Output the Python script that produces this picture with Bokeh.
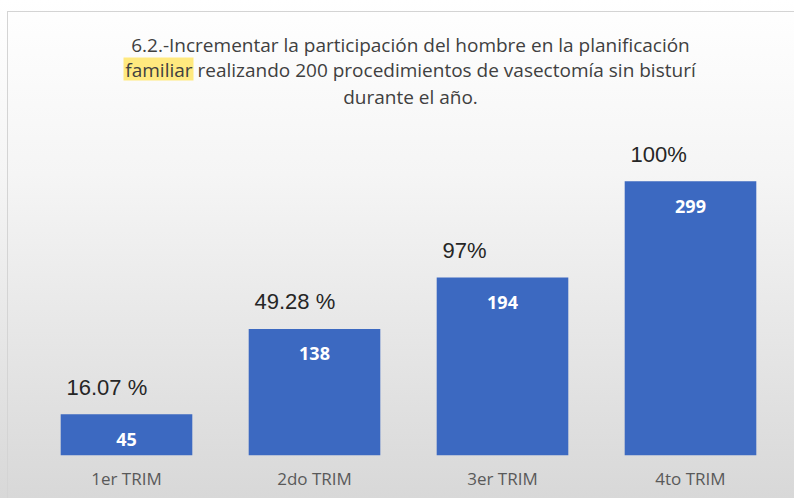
from bokeh.plotting import figure
from bokeh.models import ColumnDataSource, Label, BoxAnnotation, Range1d
from bokeh.core.properties import value
from bokeh.embed import file_html
from bokeh.resources import INLINE

categories = ["1er TRIM", "2do TRIM", "3er TRIM", "4to TRIM"]
counts = [45, 138, 194, 299]
pct_labels = ["16.07 %", "49.28 %", "97%", "100%"]
title_lines = [
    "6.2.-Incrementar la participación del hombre en la planificación",
    "familiar realizando 200 procedimientos de vasectomía sin bisturí",
    "durante el año.",
]

src = ColumnDataSource(dict(cat=categories, n=counts, n_txt=[str(c) for c in counts], pct=pct_labels))

W, H = 794, 498
p = figure(x_range=categories, y_range=Range1d(0, 496), width=W, height=H,
           output_backend="svg", toolbar_location=None,
           min_border_left=32, min_border_right=10, min_border_top=0, min_border_bottom=43)
p.x_range.range_padding = 0
p.styles = {
    "background": ("linear-gradient(#d4d4d4,#d4d4d4) 7px 11px / 1px calc(100% - 11px) no-repeat, "
                   "linear-gradient(#d4d4d4,#d4d4d4) 7px 11px / calc(100% - 7px) 1px no-repeat, "
                   "linear-gradient(#ffffff 0%, #f5f5f5 35%, #d8d8d8 100%)")
}
p.background_fill_color = None
p.border_fill_color = None
p.outline_line_color = None

p.vbar(x="cat", top="n", width=0.70, source=src, fill_color="#3c69c1", line_color=None)

p.text(x="cat", y="n", text="n_txt", source=src, text_align="center", text_baseline="middle",
       y_offset=25, text_color="white", text_font=value("Open Sans"), text_font_style="bold",
       text_font_size="18px")
p.text(x="cat", y="n", text="pct", source=src, text_align="left", text_baseline="middle",
       x_offset=-60, y_offset=-27, text_color="#262626", text_font=value("Liberation Sans"),
       text_font_size="22px")

# highlight behind "familiar"
p.add_layout(BoxAnnotation(left=91, right=161, top=398, bottom=375,
                           left_units="screen", right_units="screen", top_units="screen",
                           bottom_units="screen", fill_color="#ffe97f", fill_alpha=1, line_color=None,
                           level="underlay"))

for t, ys in zip(title_lines, [411, 386, 359]):
    p.add_layout(Label(x=378, y=ys, x_units="screen", y_units="screen", text=t,
                       text_align="center", text_baseline="middle", text_font="Open Sans",
                       text_font_size="19px", text_color="#404040"))

p.yaxis.visible = False
p.ygrid.visible = False
p.xgrid.visible = False
p.xaxis.axis_line_color = None
p.xaxis.major_tick_line_color = None
p.xaxis.minor_tick_line_color = None
p.xaxis.major_tick_out = 0
p.xaxis.major_tick_in = 0
p.xaxis.major_label_standoff = 11
p.xaxis.major_label_text_font = "Open Sans"
p.xaxis.major_label_text_font_size = "17px"
p.xaxis.major_label_text_color = "#595959"

open("out.html", "w").write(file_html(p, INLINE))
